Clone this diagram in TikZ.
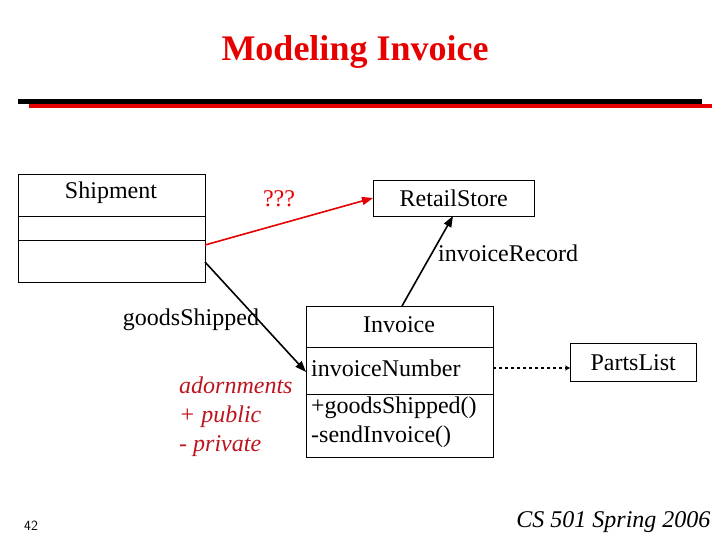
\documentclass[tikz,border=0pt]{standalone}
\usepackage{fontspec}
\setmainfont{Liberation Serif}
\usetikzlibrary{positioning,arrows.meta}
\definecolor{titlered}{RGB}{230,0,0}
\definecolor{notered}{RGB}{190,20,30}

\begin{document}
\begin{tikzpicture}[
    x=1pt, y=-1pt,
    cls/.style={rectangle, draw=black, fill=white, inner sep=0pt, anchor=north west},
    lbl/.style={font=\fontsize{24}{29}\selectfont, inner sep=1pt},
    arrow/.style={-{Triangle[length=11pt,width=8pt]}, line width=1.6pt}
]
\useasboundingbox (0,0) rectangle (720,540);

% Title and rules
\node[text=titlered, font=\fontsize{36}{38}\selectfont\bfseries] (title) at (355,52) {Modeling Invoice};
\fill[black] (18,99) rectangle (702,104);
\fill[titlered] (29,104) rectangle (712,108);

% Shipment class
\node[cls, minimum width=187pt, minimum height=108pt] (ship) at (18,174) {};
\draw (ship.west |- 0,216) -- (ship.east |- 0,216);
\draw (ship.west |- 0,240) -- (ship.east |- 0,240);
\node[lbl] (shipname) at (111,193) {Shipment};

% RetailStore class
\node[cls, minimum width=161pt, minimum height=36pt] (store) at (373,180) {};
\node[lbl] (storename) at (store.center) {RetailStore};

% Invoice class
\node[cls, minimum width=187pt, minimum height=151pt] (inv) at (306,306) {};
\draw (inv.west |- 0,347) -- (inv.east |- 0,347);
\draw (inv.west |- 0,394) -- (inv.east |- 0,394);
\node[lbl] (invname) at (399,325) {Invoice};
\node[lbl, anchor=west] (invnum) at (310,368) {invoiceNumber};
\node[lbl, anchor=north west, align=left] (invops) at (310,396) {+goodsShipped()\\-sendInvoice()};

% PartsList class
\node[cls, minimum width=126pt, minimum height=38pt] (parts) at (570,343) {};
\node[lbl] (partsname) at (parts.center) {PartsList};

% Associations
\coordinate (shipred) at (205,245);
\coordinate (storein) at (373,198);
\coordinate (shipout) at (205,262);
\coordinate (invin) at (306,372);
\coordinate (invtop) at (402,306);
\coordinate (storebot) at (453,216);
\coordinate (invright) at (493,368);
\draw[arrow, draw=titlered, fill=titlered] (shipred) -- (storein);
\draw[arrow] (shipout) -- (invin);
\draw[arrow] (invtop) -- (storebot);
\draw[dashed, line width=1.2pt, -{Stealth[length=5pt,width=5pt]}] (invright) -- (parts.west |- invright);

% Labels
\node[lbl, text=titlered] (qqq) at (279,199) {???};
\node[lbl, anchor=west] (rec) at (437,253) {invoiceRecord};
\node[lbl] (gs) at (191,320) {goodsShipped};
\node[lbl, text=notered, align=left, anchor=north west, font=\fontsize{24}{29}\selectfont\itshape] (adorn) at (178,376) {adornments\\+ public\\- private};

% Footer
\node[font=\fontsize{14}{16}\selectfont\sffamily] (pagenum) at (31,526) {42};
\node[font=\fontsize{24}{26}\selectfont\itshape, anchor=east] (course) at (714,522) {CS 501 Spring 2006};
\end{tikzpicture}
\end{document}
